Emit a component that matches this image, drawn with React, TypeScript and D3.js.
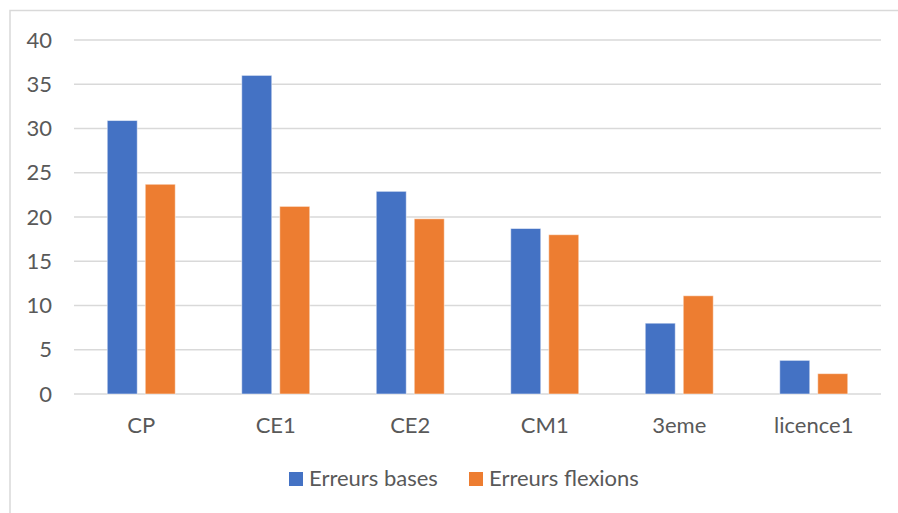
import { useEffect, useRef } from 'react';
import * as d3 from 'd3';

const categories = ['CP', 'CE1', 'CE2', 'CM1', '3eme', 'licence1'];
const seriesNames = ['Erreurs bases', 'Erreurs flexions'];
const erreursBases = [30.9, 36, 22.9, 18.7, 8, 3.8];
const erreursFlexions = [23.7, 21.2, 19.8, 18, 11.1, 2.3];
const yTicks = [0, 5, 10, 15, 20, 25, 30, 35, 40];
const colors = ['#4472C4', '#ED7D31'];

const WIDTH = 898;
const HEIGHT = 513;
const FONT = 'Lato, "Noto Sans", sans-serif';
const TEXT = '#595959';
const GRID = '#D9D9D9';

export default function App() {
  const svgRef = useRef<SVGSVGElement>(null);

  useEffect(() => {
    if (!svgRef.current) return;
    const svg = d3.select(svgRef.current);
    svg.selectAll('*').remove();

    const plot = { left: 74, right: 881, top: 40, bottom: 394 };

    // chart frame (top and left edges visible)
    svg.append('rect')
      .attr('x', 10).attr('y', 10.5)
      .attr('width', WIDTH).attr('height', HEIGHT)
      .attr('fill', '#fff')
      .attr('stroke', GRID).attr('stroke-width', 1.5);

    const x0 = d3.scaleBand<string>()
      .domain(categories)
      .range([plot.left, plot.right])
      .padding(0);

    const x1 = d3.scaleBand<string>()
      .domain(seriesNames)
      .range([0, 68])
      .paddingInner(8 / 38)
      .paddingOuter(0);

    const y = d3.scaleLinear().domain([0, 40]).range([plot.bottom, plot.top]);

    // gridlines
    svg.append('g')
      .selectAll('line')
      .data(yTicks)
      .join('line')
      .attr('x1', plot.left).attr('x2', plot.right)
      .attr('y1', (d) => y(d)).attr('y2', (d) => y(d))
      .attr('stroke', GRID).attr('stroke-width', 1.5);

    // y labels
    svg.append('g')
      .selectAll('text')
      .data(yTicks)
      .join('text')
      .attr('x', 52)
      .attr('y', (d) => y(d))
      .attr('dy', '0.35em')
      .attr('text-anchor', 'end')
      .attr('fill', TEXT)
      .attr('font-family', FONT)
      .attr('font-size', 22)
      .text((d) => String(d));

    // bars
    const series = [erreursBases, erreursFlexions];
    series.forEach((values, si) => {
      svg.append('g')
        .selectAll('rect')
        .data(values)
        .join('rect')
        .attr('x', (_, i) => (x0(categories[i]) ?? 0) + x0.bandwidth() / 2 - 34 + (x1(seriesNames[si]) ?? 0))
        .attr('y', (d) => y(d))
        .attr('width', x1.bandwidth())
        .attr('height', (d) => y(0) - y(d))
        .attr('fill', colors[si])
        .attr('stroke', '#fff')
        .attr('stroke-opacity', 0.5)
        .attr('stroke-width', 1);
    });

    // category labels
    svg.append('g')
      .selectAll('text')
      .data(categories)
      .join('text')
      .attr('x', (d) => (x0(d) ?? 0) + x0.bandwidth() / 2)
      .attr('y', 433)
      .attr('text-anchor', 'middle')
      .attr('fill', TEXT)
      .attr('font-family', FONT)
      .attr('font-size', 22)
      .text((d) => d);

    // legend
    const legendX = [289, 469];
    seriesNames.forEach((name, i) => {
      svg.append('rect')
        .attr('x', legendX[i]).attr('y', 472)
        .attr('width', 14).attr('height', 14)
        .attr('fill', colors[i]);
      svg.append('text')
        .attr('x', legendX[i] + 20)
        .attr('y', 486)
        .attr('fill', TEXT)
        .attr('font-family', FONT)
        .attr('font-size', 22)
        .text(name);
    });
  }, []);

  return (
    <svg
      ref={svgRef}
      width={WIDTH}
      height={HEIGHT}
      style={{ position: 'absolute', left: 0, top: 0, display: 'block', background: '#fff' }}
    />
  );
}
